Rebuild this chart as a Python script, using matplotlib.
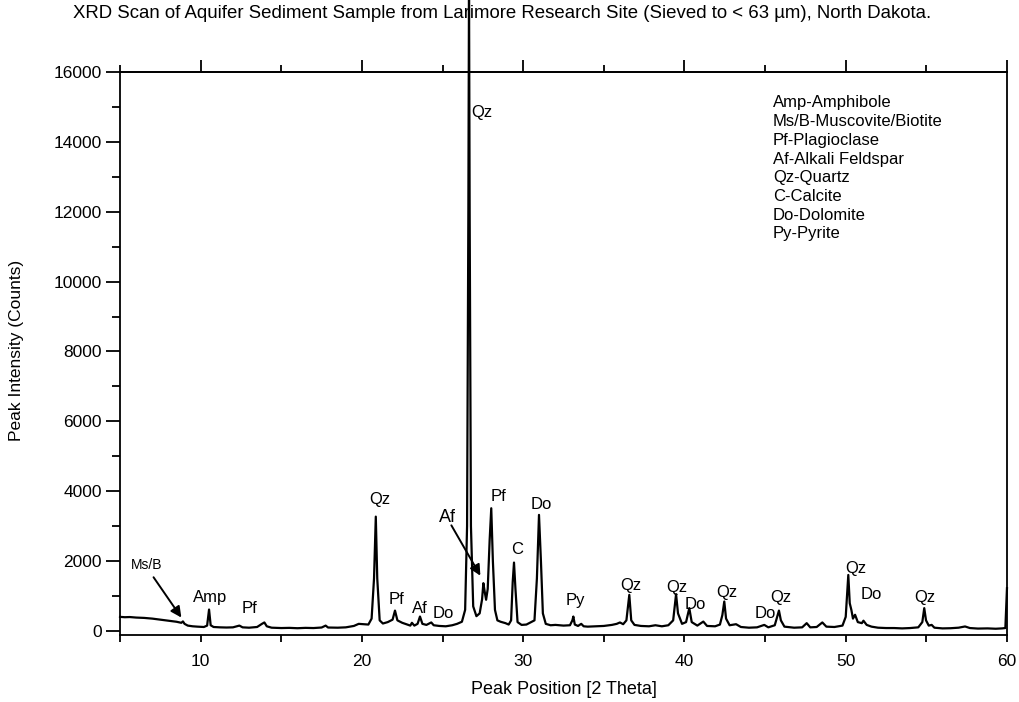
import matplotlib
matplotlib.use('Agg')
import matplotlib.pyplot as plt
from matplotlib.ticker import MultipleLocator

plt.rcParams['font.family'] = ['Liberation Sans', 'DejaVu Sans']

# XRD trace: 2-theta and counts
two_theta = [5.0, 5.3, 5.6, 6.0, 6.5, 7.0, 7.5, 8.0, 8.5, 8.8, 8.9, 9.0, 9.2, 9.5, 9.8,
             10.2, 10.4, 10.52, 10.62, 10.8, 11.2, 11.6, 12.0, 12.4, 12.6, 13.0, 13.5,
             13.8, 13.95, 14.1, 14.4, 15.0, 15.5, 16.0, 16.5, 17.0, 17.5, 17.75, 17.9,
             18.5, 19.0, 19.5, 19.8, 20.1, 20.4, 20.6, 20.75, 20.86, 20.95, 21.1, 21.3,
             21.6, 21.9, 22.05, 22.2, 22.5, 22.8, 23.0, 23.1, 23.25, 23.45, 23.6, 23.75,
             24.0, 24.3, 24.45, 24.8, 25.2, 25.6, 25.9, 26.2, 26.4, 26.52, 26.6, 26.64,
             26.68, 26.76, 26.9, 27.1, 27.3, 27.45, 27.53, 27.62, 27.7, 27.8, 27.92,
             28.02, 28.12, 28.25, 28.4, 28.6, 28.9, 29.1, 29.25, 29.35, 29.43, 29.52,
             29.65, 29.9, 30.2, 30.5, 30.7, 30.85, 30.98, 31.1, 31.22, 31.4, 31.7, 32.0,
             32.5, 32.9, 33.05, 33.11, 33.2, 33.4, 33.6, 33.75, 34.0, 34.5, 35.0, 35.5,
             35.8, 36.0, 36.2, 36.4, 36.58, 36.7, 36.9, 37.3, 37.8, 38.2, 38.6, 39.0,
             39.3, 39.48, 39.6, 39.85, 40.1, 40.3, 40.45, 40.8, 41.17, 41.4, 41.9, 42.2,
             42.35, 42.47, 42.58, 42.8, 43.2, 43.5, 44.0, 44.5, 44.95, 45.2, 45.6, 45.86,
             45.98, 46.2, 46.8, 47.3, 47.58, 47.8, 48.2, 48.55, 48.8, 49.3, 49.8, 50.0,
             50.16, 50.25, 50.35, 50.45, 50.58, 50.75, 51.0, 51.1, 51.3, 51.6, 52.0, 52.5,
             53.0, 53.5, 54.0, 54.5, 54.75, 54.87, 54.98, 55.15, 55.33, 55.5, 56.0, 56.5,
             57.0, 57.4, 57.7, 58.2, 58.8, 59.3, 59.7, 59.9, 60.0]
counts = [400, 390, 395, 380, 370, 350, 320, 290, 260, 230, 270, 200, 150, 130, 120,
          110, 150, 610, 160, 110, 100, 95, 100, 150, 100, 90, 110,
          200, 240, 130, 90, 80, 85, 75, 85, 80, 95, 150, 95,
          90, 100, 140, 200, 190, 180, 350, 1500, 3270, 1500, 300, 210,
          250, 320, 580, 300, 230, 180, 150, 230, 150, 200, 410, 200,
          170, 240, 160, 140, 130, 160, 200, 260, 600, 3000, 12000, 18500,
          12000, 3000, 700, 420, 500, 900, 1365, 1100, 890, 1200, 2600,
          3510, 2000, 600, 300, 260, 220, 180, 300, 1400, 1955, 1200,
          250, 170, 180, 250, 300, 1500, 3320, 2000, 500, 200, 160, 170,
          150, 160, 300, 410, 180, 140, 200, 130, 120, 130, 140, 170,
          200, 240, 190, 300, 1030, 300, 170, 140, 130, 160, 130, 160,
          300, 1050, 500, 200, 250, 650, 250, 150, 265, 140, 130, 180,
          450, 840, 350, 160, 190, 110, 90, 100, 170, 100, 160, 580,
          300, 120, 90, 100, 220, 100, 110, 240, 120, 110, 150, 400,
          1600, 790, 600, 350, 460, 250, 220, 290, 170, 120, 90, 80,
          80, 70, 80, 100, 250, 650, 300, 150, 170, 90, 70, 75,
          90, 125, 80, 65, 70, 60, 70, 80, 1220]

# peak labels: text, x, y
peak_names = ['Amp', 'Pf', 'Qz', 'Pf', 'Af', 'Do', 'Qz', 'Pf', 'C', 'Do', 'Py',
              'Qz', 'Qz', 'Do', 'Qz', 'Do', 'Qz', 'Qz', 'Do', 'Qz']
peak_x = [10.58, 13.05, 21.08, 22.16, 23.6, 25.05, 27.43, 28.46, 29.6, 31.15, 33.21,
          36.69, 39.52, 40.7, 42.62, 45.04, 45.99, 50.64, 51.61, 54.92]
peak_y = [967, 630, 3749, 907, 650, 486, 14835, 3845, 2318, 3606, 867,
          1288, 1240, 744, 1097, 486, 966, 1779, 1040, 966]

legend_lines = ['Amp-Amphibole', 'Ms/B-Muscovite/Biotite', 'Pf-Plagioclase',
                'Af-Alkali Feldspar', 'Qz-Quartz', 'C-Calcite', 'Do-Dolomite', 'Py-Pyrite']

fig = plt.figure(figsize=(10.19, 7.02), dpi=100)
ax = fig.add_axes([0.1178, 0.0954, 0.8704, 0.802])

ax.plot(two_theta, counts, color='black', lw=1.6, clip_on=False, zorder=3)
ax.set_xlim(5, 60)
ax.set_ylim(-120, 16000)

for s in ax.spines.values():
    s.set_linewidth(1.3)

ax.yaxis.set_major_locator(MultipleLocator(2000))
ax.yaxis.set_minor_locator(MultipleLocator(1000))
ax.set_xticks([10, 20, 30, 40, 50, 60])
ax.set_xticks([5, 15, 25, 35, 45, 55], minor=True)
ax.tick_params(axis='x', which='both', direction='out', length=5, width=1.3,
               pad=9, labelsize=12.5)
ax.tick_params(axis='y', which='major', direction='out', length=10, width=1.3,
               pad=3, labelsize=12.5)
ax.tick_params(axis='y', which='minor', direction='out', length=6, width=1.3)

top = ax.secondary_xaxis('top')
top.set_xticks([10, 20, 30, 40, 50, 60])
top.set_xticks([5, 15, 25, 35, 45, 55], minor=True)
top.tick_params(which='major', direction='out', length=9, width=1.3, labeltop=False)
top.tick_params(which='minor', direction='out', length=5, width=1.3)
top.spines['top'].set_linewidth(1.3)

for name, px, py in zip(peak_names, peak_x, peak_y):
    ax.text(px, py, name, ha='center', va='center', fontsize=12)

# arrowed labels
ax.annotate('', xy=(8.9, 315), xytext=(6.98, 1600),
            arrowprops=dict(arrowstyle='-|>', color='black', lw=1.4, mutation_scale=16))
ax.text(6.67, 1889, 'Ms/B', ha='center', va='center', fontsize=10)
ax.annotate('', xy=(27.43, 1510), xytext=(25.46, 3090),
            arrowprops=dict(arrowstyle='-|>', color='black', lw=1.4, mutation_scale=16))
ax.text(25.3, 3240, 'Af', ha='center', va='center', fontsize=13)

for i, line in enumerate(legend_lines):
    fig.text(773 / 1019, 1 - (103 + i * 18.7) / 702, line, ha='left', va='center',
             fontsize=12)

fig.text(73 / 1019, 1 - 13 / 702,
         'XRD Scan of Aquifer Sediment Sample from Larimore Research Site (Sieved to < 63 \u00b5m), North Dakota.',
         ha='left', va='center', fontsize=13.4)
fig.text(564 / 1019, 1 - 690 / 702, 'Peak Position [2 Theta]', ha='center', va='center',
         fontsize=13)
fig.text(17 / 1019, 1 - 350 / 702, 'Peak Intensity (Counts)', ha='center', va='center',
         rotation=90, fontsize=12.5)

fig.savefig('out.png', dpi=100)
